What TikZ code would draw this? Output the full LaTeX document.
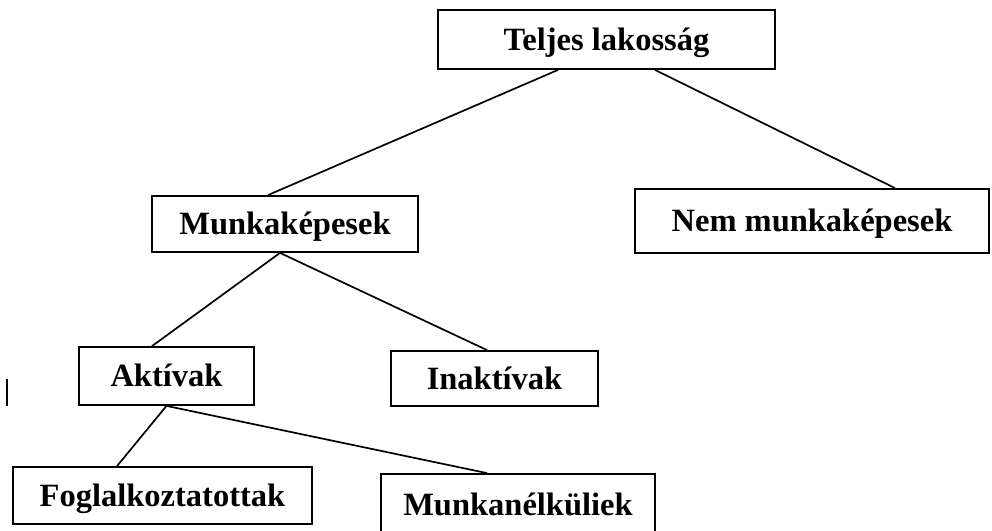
\documentclass[tikz,border=0pt]{standalone}
\usepackage{fontspec}
\setmainfont{Liberation Serif}
\usetikzlibrary{calc}

\begin{document}
\begin{tikzpicture}[x=1pt,y=-1pt]

\tikzset{
  groupbox/.style={
    draw=black,
    line width=1.8pt,
    rectangle,
    inner sep=0pt,
    font=\fontsize{32.5}{34}\selectfont\bfseries,
    text height=21.5pt,
    text depth=0pt
  },
  branch/.style={
    black,
    line width=1.7pt
  }
}

% Page frame
\useasboundingbox (0,0) rectangle (992,530);

%%%%%%%%%%%%%%%%%%%%%%%%%%%%%%%%%%%%%%%%%%%%%%%%%%%%%%%%%%%%
%% Boxes
%%%%%%%%%%%%%%%%%%%%%%%%%%%%%%%%%%%%%%%%%%%%%%%%%%%%%%%%%%%%
\node[groupbox, minimum width=337pt, minimum height=59pt]
  (teljes) at (606.5,39.5) {Teljes lakosság};

\node[groupbox, minimum width=266pt, minimum height=56pt]
  (munkakep) at (285,224) {Munkaképesek};

\node[groupbox, minimum width=354pt, minimum height=64pt]
  (nemmunka) at (812,221) {Nem munkaképesek};

\node[groupbox, minimum width=175pt, minimum height=58pt]
  (aktiv) at (166.5,376) {Aktívak};

\node[groupbox, minimum width=207pt, minimum height=55pt]
  (inaktiv) at (494.5,378.5) {Inaktívak};

\node[groupbox, minimum width=299pt, minimum height=57pt]
  (foglalk) at (162.5,495.5) {Foglalkoztatottak};

\node[groupbox, minimum width=274pt, minimum height=62pt]
  (munkanelk) at (518,505) {Munkanélküliek};

%%%%%%%%%%%%%%%%%%%%%%%%%%%%%%%%%%%%%%%%%%%%%%%%%%%%%%%%%%%%
%% Branches
%%%%%%%%%%%%%%%%%%%%%%%%%%%%%%%%%%%%%%%%%%%%%%%%%%%%%%%%%%%%
\draw[branch] ([xshift=-48.5pt]teljes.south) -- ([xshift=-17pt]munkakep.north);
\draw[branch] ([xshift=48.5pt]teljes.south) -- ([xshift=83pt]nemmunka.north);

\draw[branch] ([xshift=-5pt]munkakep.south) -- ([xshift=-14.5pt]aktiv.north);
\draw[branch] ([xshift=-5pt]munkakep.south) -- ([xshift=-7.5pt]inaktiv.north);

\draw[branch] (aktiv.south) -- ([xshift=-45.5pt]foglalk.north);
\draw[branch] (aktiv.south) -- ([xshift=-31pt]munkanelk.north);

% Stray cursor mark
\coordinate (markTop) at (7,379);
\coordinate (markBot) at (7,406);
\draw[line width=1.7pt] (markTop) -- (markBot);

\end{tikzpicture}
\end{document}
